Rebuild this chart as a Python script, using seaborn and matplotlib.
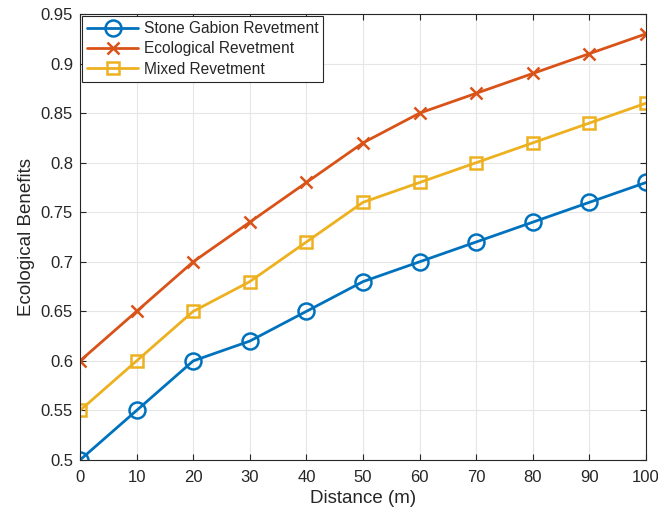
import matplotlib
matplotlib.use("Agg")
import matplotlib.pyplot as plt
import seaborn as sns
import pandas as pd
import numpy as np

sns.set_style("whitegrid")
plt.rcParams['font.family'] = ['Liberation Sans', 'DejaVu Sans']

# data
distance = [0, 10, 20, 30, 40, 50, 60, 70, 80, 90, 100]
stone = [0.50, 0.55, 0.60, 0.62, 0.65, 0.68, 0.70, 0.72, 0.74, 0.76, 0.78]
ecological = [0.60, 0.65, 0.70, 0.74, 0.78, 0.82, 0.85, 0.87, 0.89, 0.91, 0.93]
mixed = [0.55, 0.60, 0.65, 0.68, 0.72, 0.76, 0.78, 0.80, 0.82, 0.84, 0.86]

names = ['Stone Gabion Revetment', 'Ecological Revetment', 'Mixed Revetment']
colors = ['#0072BD', '#D95319', '#EDB120']
markers = ['o', 'x', 's']
msizes = [11.5, 8, 8.5]

df = pd.DataFrame({
    'Distance (m)': distance * 3,
    'Ecological Benefits': stone + ecological + mixed,
    'Type': np.repeat(names, len(distance)),
})

fig = plt.figure(figsize=(6.58, 5.15), dpi=100)
ax = fig.add_axes([0.1216, 0.1068, 0.8602, 0.866])

for name, c, m, ms in zip(names, colors, markers, msizes):
    sub = df[df['Type'] == name]
    sns.lineplot(ax=ax, data=sub, x='Distance (m)', y='Ecological Benefits',
                 color=c, marker=m, markersize=ms, markerfacecolor='none',
                 markeredgecolor=c, markeredgewidth=1.8, linewidth=2, label=name)

ax.set_xlim(0, 100)
ax.set_ylim(0.5, 0.95)
ax.set_xticks(range(0, 101, 10))
ax.set_yticks(np.arange(0.5, 0.951, 0.05))
ax.set_yticklabels(['0.5', '0.55', '0.6', '0.65', '0.7', '0.75', '0.8', '0.85', '0.9', '0.95'])

ax.grid(True, color='#e6e6e6', linewidth=0.8)
for s in ax.spines.values():
    s.set_color('#262626')
    s.set_linewidth(0.8)
ax.tick_params(direction='in', length=4, color='#262626', labelsize=12, labelcolor='#262626',
               top=True, right=True, bottom=True, left=True)
ax.tick_params(axis='x', pad=7)
ax.tick_params(axis='y', pad=5)
ax.set_xlabel('Distance (m)', fontsize=13.5, color='#262626', labelpad=4)
ax.set_ylabel('Ecological Benefits', fontsize=13.5, color='#262626', labelpad=4)

leg = ax.legend(loc='upper left', fontsize=11.2, frameon=True, fancybox=False,
                edgecolor='#262626', framealpha=1, borderaxespad=0.15,
                handlelength=3.3, handletextpad=0.35, labelspacing=0.35, borderpad=0.3)
leg.get_frame().set_linewidth(0.8)

fig.savefig('out.png', dpi=100)
